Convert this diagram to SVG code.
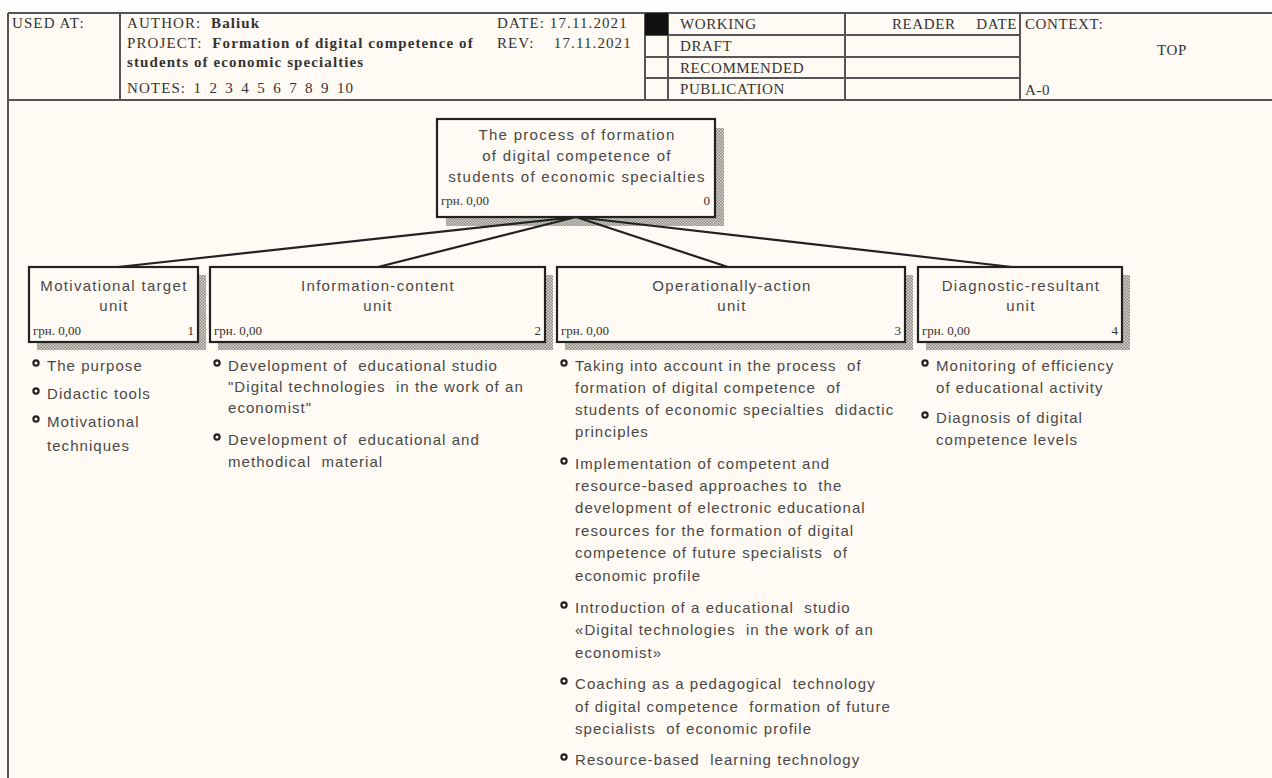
<svg xmlns="http://www.w3.org/2000/svg" width="1272" height="778" viewBox="0 0 1272 778">
<defs>
<pattern id="hatch" width="3" height="3" patternUnits="userSpaceOnUse">
<rect width="3" height="3" fill="#d8d4cc"/>
<rect x="0" y="0" width="1.5" height="1.5" fill="#8a8782"/>
<rect x="1.5" y="1.5" width="1.5" height="1.5" fill="#8a8782"/>
</pattern>
</defs>
<style>
.hdr{font-family:"Liberation Serif","Times New Roman",serif;font-size:15px;fill:#333;letter-spacing:1.1px;white-space:pre}
.hs{letter-spacing:0.6px}
.b{font-weight:bold}
.frame{stroke:#555;stroke-width:2;fill:none}
.box{fill:#fffaf3;stroke:#222;stroke-width:2.2}
.sh{fill:url(#hatch)}
.nt{font-family:"Liberation Sans",Arial,sans-serif;font-size:15px;fill:#484848;text-anchor:middle;letter-spacing:1.3px;white-space:pre}
.cost{font-family:"Liberation Serif","Times New Roman",serif;font-size:13px;fill:#333;white-space:pre}
.bt{font-family:"Liberation Sans",Arial,sans-serif;font-size:15px;fill:#484848;letter-spacing:1.05px;white-space:pre}
.bul{fill:none;stroke:#222;stroke-width:2.2}
.conn{stroke:#222;stroke-width:2.2;fill:none}
</style>
<rect width="1272" height="778" fill="#fffaf3"/>
<rect width="1272" height="12" fill="#fefdfb"/>

<g id="header">
<path class="frame" d="M8 13H1272M8 100H1272M8 13V778M120 13V100M645 13V100M668 13V100M845 13V100M1020 13V100M645 35H1020M645 57H1020M645 78H1020"/>
<rect x="645" y="13" width="23" height="22" fill="#111"/>
<text class="hdr" x="12" y="28">USED AT:</text>
<text class="hdr" x="127" y="28">AUTHOR:  <tspan class="b">Baliuk</tspan></text>
<text class="hdr" x="127" y="48">PROJECT:  <tspan class="b">Formation of digital competence of</tspan></text>
<text class="hdr b" x="127" y="67">students of economic specialties</text>
<text class="hdr" x="127" y="93" word-spacing="2.5">NOTES: 1 2 3 4 5 6 7 8 9 10</text>
<text class="hdr" x="497" y="28">DATE: 17.11.2021</text>
<text class="hdr" x="497" y="48">REV:    17.11.2021</text>
<text class="hdr hs" x="680" y="29">WORKING</text>
<text class="hdr hs" x="680" y="51">DRAFT</text>
<text class="hdr hs" x="680" y="73">RECOMMENDED</text>
<text class="hdr hs" x="680" y="94">PUBLICATION</text>
<text class="hdr hs" x="892" y="29">READER</text>
<text class="hdr hs" x="1017" y="29" text-anchor="end">DATE</text>
<text class="hdr hs" x="1025" y="29">CONTEXT:</text>
<text class="hdr hs" x="1172" y="55" text-anchor="middle">TOP</text>
<text class="hdr hs" x="1025" y="95">A-0</text>
</g>

<g id="node0">
<rect class="sh" x="446" y="128" width="278" height="98"/>
<rect class="box" x="437" y="119" width="278" height="98"/>
<text class="nt" x="577" y="140">The process of formation</text>
<text class="nt" x="577" y="161">of digital competence of</text>
<text class="nt" x="577" y="182">students of economic specialties</text>
<text class="cost" x="441" y="205">грн. 0,00</text>
<text class="cost" x="710" y="205" text-anchor="end">0</text>
</g>

<g id="node1">
<rect class="sh" x="37" y="275" width="169" height="75"/>
<rect class="box" x="29" y="267" width="169" height="75"/>
<text class="nt" x="114" y="291">Motivational target</text>
<text class="nt" x="114" y="311">unit</text>
<text class="cost" x="33" y="335">грн. 0,00</text>
<text class="cost" x="194" y="335" text-anchor="end">1</text>
</g>

<g id="node2">
<rect class="sh" x="218" y="275" width="335" height="75"/>
<rect class="box" x="210" y="267" width="335" height="75"/>
<text class="nt" x="378" y="291">Information-content</text>
<text class="nt" x="378" y="311">unit</text>
<text class="cost" x="214" y="335">грн. 0,00</text>
<text class="cost" x="541" y="335" text-anchor="end">2</text>
</g>

<g id="node3">
<rect class="sh" x="565" y="275" width="348" height="75"/>
<rect class="box" x="557" y="267" width="348" height="75"/>
<text class="nt" x="732" y="291">Operationally-action</text>
<text class="nt" x="732" y="311">unit</text>
<text class="cost" x="561" y="335">грн. 0,00</text>
<text class="cost" x="901" y="335" text-anchor="end">3</text>
</g>

<g id="node4">
<rect class="sh" x="926" y="275" width="204" height="75"/>
<rect class="box" x="918" y="267" width="204" height="75"/>
<text class="nt" x="1021" y="291">Diagnostic-resultant</text>
<text class="nt" x="1021" y="311">unit</text>
<text class="cost" x="922" y="335">грн. 0,00</text>
<text class="cost" x="1118" y="335" text-anchor="end">4</text>
</g>

<g id="connectors">
<path class="conn" d="M576 217L118 267M576 217L378 267M576 217L728 267M576 217L1012 267"/>
</g>

<g id="list1">
<circle class="bul" cx="36" cy="363" r="2.6"/>
<circle class="bul" cx="36" cy="391" r="2.6"/>
<circle class="bul" cx="36" cy="419" r="2.6"/>
<text class="bt" x="47" y="371">The purpose</text>
<text class="bt" x="47" y="399">Didactic tools</text>
<text class="bt" x="47" y="427">Motivational</text>
<text class="bt" x="47" y="451">techniques</text>
</g>

<g id="list2">
<circle class="bul" cx="217" cy="363" r="2.6"/>
<circle class="bul" cx="217" cy="437" r="2.6"/>
<text class="bt" x="228" y="371">Development of  educational studio</text>
<text class="bt" x="228" y="392">"Digital technologies  in the work of an</text>
<text class="bt" x="228" y="413">economist"</text>
<text class="bt" x="228" y="445">Development of  educational and</text>
<text class="bt" x="228" y="467">methodical  material</text>
</g>

<g id="list3">
<circle class="bul" cx="564" cy="363" r="2.6"/>
<circle class="bul" cx="564" cy="461" r="2.6"/>
<circle class="bul" cx="564" cy="605" r="2.6"/>
<circle class="bul" cx="564" cy="681" r="2.6"/>
<circle class="bul" cx="564" cy="757" r="2.6"/>
<text class="bt" x="575" y="371">Taking into account in the process  of</text>
<text class="bt" x="575" y="393">formation of digital competence  of</text>
<text class="bt" x="575" y="415">students of economic specialties  didactic</text>
<text class="bt" x="575" y="437">principles</text>
<text class="bt" x="575" y="469">Implementation of competent and</text>
<text class="bt" x="575" y="491">resource-based approaches to  the</text>
<text class="bt" x="575" y="513">development of electronic educational</text>
<text class="bt" x="575" y="536">resources for the formation of digital</text>
<text class="bt" x="575" y="558">competence of future specialists  of</text>
<text class="bt" x="575" y="581">economic profile</text>
<text class="bt" x="575" y="613">Introduction of a educational  studio</text>
<text class="bt" x="575" y="635">«Digital technologies  in the work of an</text>
<text class="bt" x="575" y="658">economist»</text>
<text class="bt" x="575" y="689">Coaching as a pedagogical  technology</text>
<text class="bt" x="575" y="712">of digital competence  formation of future</text>
<text class="bt" x="575" y="734">specialists  of economic profile</text>
<text class="bt" x="575" y="765">Resource-based  learning technology</text>
</g>

<g id="list4">
<circle class="bul" cx="925" cy="363" r="2.6"/>
<circle class="bul" cx="925" cy="415" r="2.6"/>
<text class="bt" x="936" y="371">Monitoring of efficiency</text>
<text class="bt" x="936" y="393">of educational activity</text>
<text class="bt" x="936" y="423">Diagnosis of digital</text>
<text class="bt" x="936" y="445">competence levels</text>
</g>
</svg>
